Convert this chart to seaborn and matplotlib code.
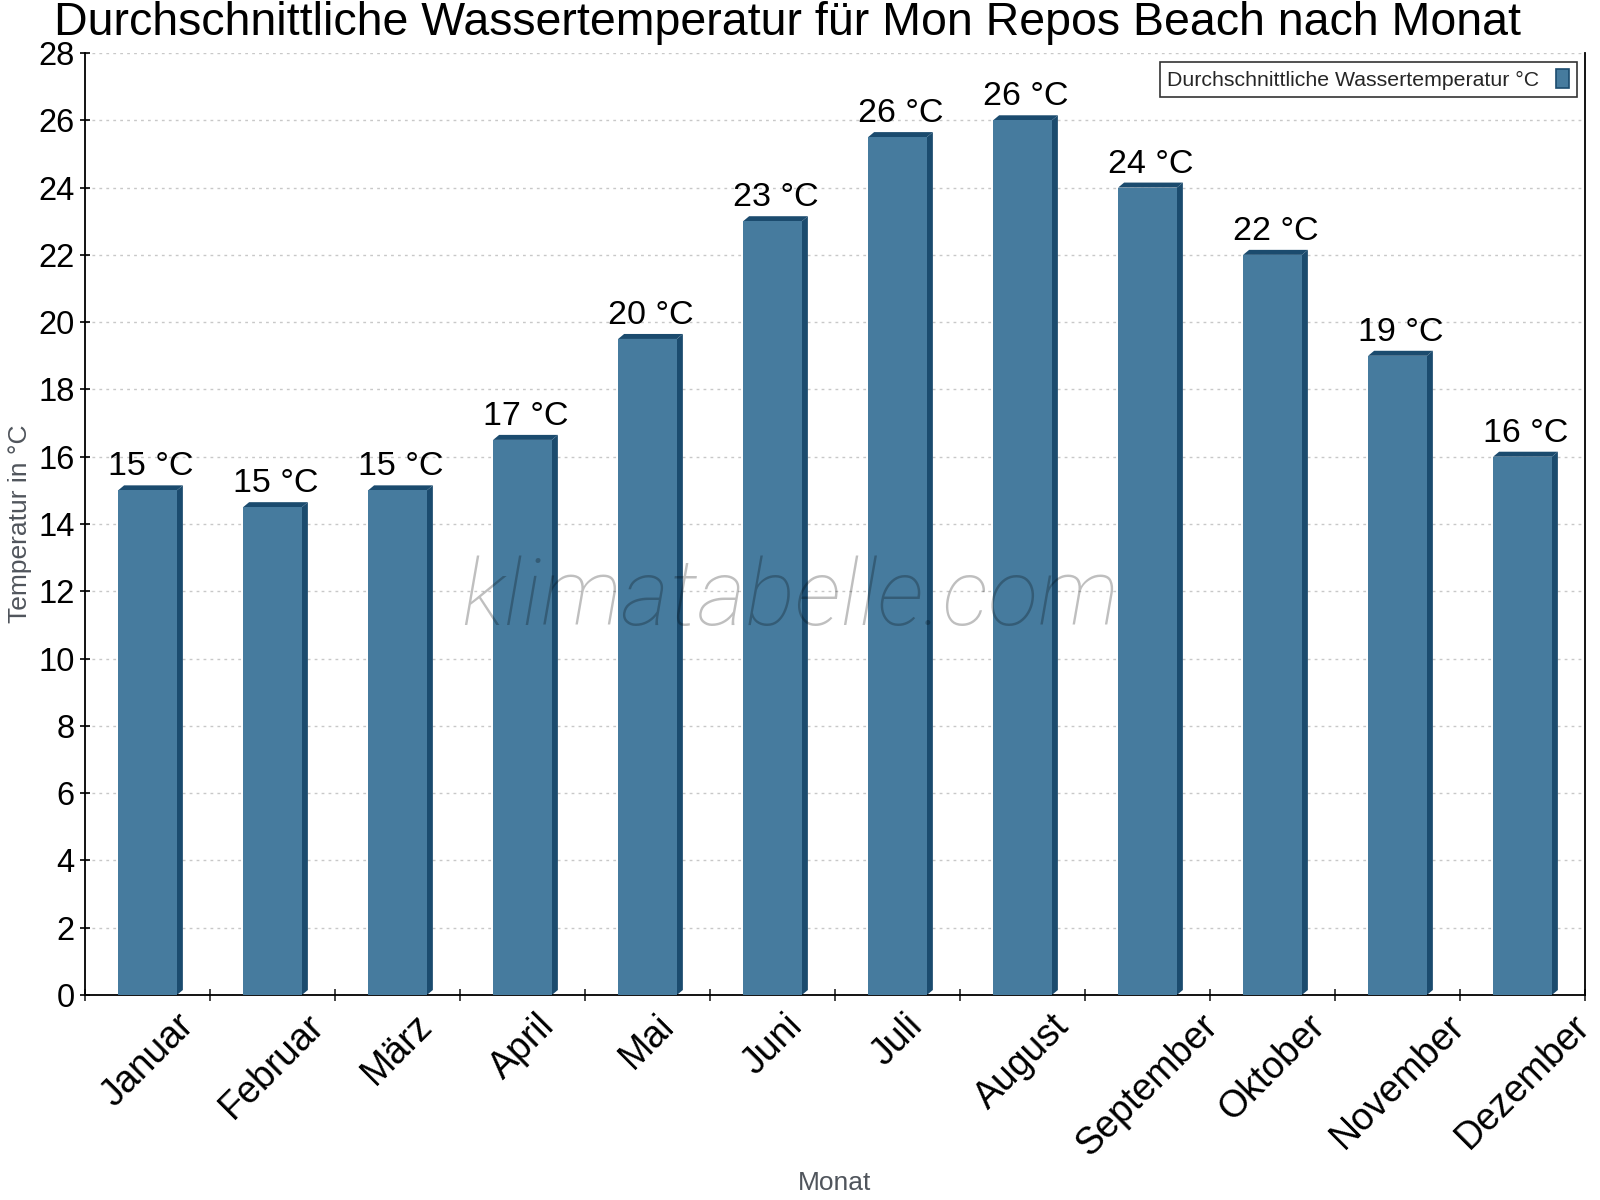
import matplotlib
matplotlib.use('Agg')
import matplotlib.pyplot as plt
from matplotlib.patches import Polygon, Patch
from matplotlib.ticker import MultipleLocator, FixedLocator
import seaborn as sns
import pandas as pd

sns.set_style('white')
plt.rcParams['font.family'] = ['Liberation Sans', 'DejaVu Sans']

months = ['Januar', 'Februar', 'März', 'April', 'Mai', 'Juni', 'Juli',
          'August', 'September', 'Oktober', 'November', 'Dezember']
water_temp = [15, 14.5, 15, 16.5, 19.5, 23, 25.5, 26, 24, 22, 19, 16]
series_name = 'Durchschnittliche Wassertemperatur °C'

df = pd.DataFrame({'Monat': months, 'temp': water_temp})

face = '#467b9e'
dark = '#1b4b6e'

fig = plt.figure(figsize=(16, 12), dpi=100)
ax = fig.add_axes([85 / 1600, 1 - 995 / 1200, 1500 / 1600, 942 / 1200])

sns.barplot(data=df, x='Monat', y='temp', color=face, saturation=1,
            width=0.47, ax=ax, zorder=3, legend=False, linewidth=0)
ax.set_xlim(-0.5, len(months) - 0.5)
ax.set_ylim(0, 28)

# 3d-ish side and top, offsets in pixels converted to data units
ppx = ax.transData.transform((1, 0))[0] - ax.transData.transform((0, 0))[0]
ppy = ax.transData.transform((0, 1))[1] - ax.transData.transform((0, 0))[1]
dx, dy = 6 / ppx, 5 / ppy
for bar in ax.patches:
    x0 = bar.get_x()
    x1 = x0 + bar.get_width()
    top = bar.get_height()
    ax.add_patch(Polygon([(x0, top), (x1, top), (x1 + dx, top + dy), (x0 + dx, top + dy)],
                         closed=True, facecolor=dark, edgecolor='none', zorder=2))
    ax.add_patch(Polygon([(x1, 0), (x1 + dx, dy), (x1 + dx, top + dy), (x1, top)],
                         closed=True, facecolor=dark, edgecolor='none', zorder=2))
    ax.annotate(f'{int(top + 0.5)} °C', (x0 + bar.get_width() / 2, top + dy),
                xytext=(3, 3), textcoords='offset pixels', ha='center', va='bottom',
                fontsize=24.5, color='black', zorder=5)

# axes styling
ax.yaxis.set_major_locator(MultipleLocator(2))
ax.grid(axis='y', color='#c8c8c8', linestyle=(0, (2, 3)), linewidth=1)
ax.grid(axis='x', visible=False)
ax.set_axisbelow(True)
for s in ['left', 'bottom', 'right']:
    ax.spines[s].set_visible(True)
    ax.spines[s].set_color('black')
    ax.spines[s].set_linewidth(1.3)
ax.spines['top'].set_visible(False)

ax.tick_params(axis='y', direction='inout', length=7, width=1.2, labelsize=23.5, pad=4,
               colors='black', left=True)
ax.xaxis.set_minor_locator(FixedLocator([i - 0.5 for i in range(len(months) + 1)]))
ax.tick_params(axis='x', which='minor', direction='inout', length=8, width=1.2, bottom=True)
ax.tick_params(axis='x', which='major', length=0, labelsize=27, pad=9, labelcolor='black')
plt.setp(ax.get_xticklabels(), rotation=45)

ax.set_xlabel('Monat', fontsize=19, color='#50555c', va='center')
ax.set_ylabel('Temperatur in °C', fontsize=19, color='#50555c', va='center')
ax.xaxis.set_label_coords(0.5, -0.2)
ax.yaxis.set_label_coords(-0.043, 0.5)

fig.text(0.492, 1 - 1 / 1200, 'Durchschnittliche Wassertemperatur für Mon Repos Beach nach Monat',
         ha='center', va='top', fontsize=33.5, color='black')

# watermark
ax.text(0.47, 0.42, 'klimatabelle.com', transform=ax.transAxes, ha='center', va='center',
        fontsize=67, family='Roboto', fontweight='light', style='italic',
        color='black', alpha=0.25, zorder=6)

leg = ax.legend(handles=[Patch(facecolor=face, edgecolor=dark, linewidth=1.2)],
                labels=[series_name], loc='upper right', bbox_to_anchor=(1, 1),
                borderaxespad=0.4, markerfirst=False, fontsize=15.3, frameon=True,
                fancybox=False, handlelength=0.6, handleheight=1.0, handletextpad=0.8,
                borderpad=0.35)
leg.get_frame().set_edgecolor('black')
leg.get_frame().set_linewidth(1.2)

fig.savefig('out.png', dpi=100)
